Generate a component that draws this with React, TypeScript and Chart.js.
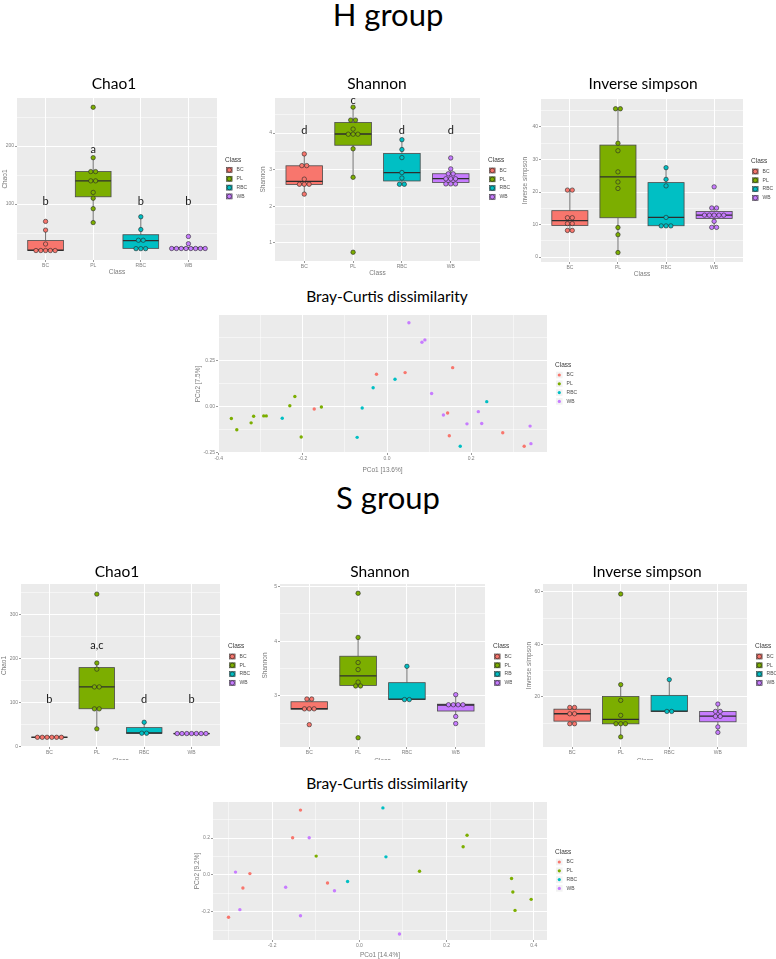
import React, { useEffect, useRef } from 'react';
import { Chart, registerables } from 'chart.js';

Chart.register(...registerables);

// ---------------- categories & colours ----------------
const CLASSES = ['BC', 'PL', 'RBC', 'WB'];
const CLASS_COLORS = ['#F8766D', '#7CAE00', '#00BFC4', '#C77CFF'];

// ---------------- H group: alpha diversity (one list per class: BC, PL, RBC, WB) ----------------
const H_CHAO1 = [
  [19, 19.5, 20, 20, 20.5, 31, 55, 70],
  [68, 92, 110, 120, 140, 140, 156, 156, 180, 267],
  [22, 23, 24, 37, 38, 56, 78],
  [22, 22.5, 23, 23, 23.5, 24, 24, 24.5, 31.5, 44],
];
const H_CHAO1_LETTERS = ['b', 'a', 'b', 'b'];
const H_CHAO1_LETTER_Y = [104, 195, 104, 104];
const H_CHAO1_TICKS = [100, 200];
const H_CHAO1_TICK_LABELS = ['100', '200'];

const H_SHANNON = [
  [2.33, 2.58, 2.6, 2.62, 2.74, 3.1, 3.12, 3.43],
  [0.74, 2.79, 3.57, 3.96, 3.97, 3.98, 4.11, 4.35, 4.36, 4.71],
  [2.59, 2.61, 2.77, 2.92, 3.33, 3.55, 3.82],
  [2.6, 2.61, 2.62, 2.74, 2.75, 2.76, 2.88, 2.89, 3.02, 3.32],
];
const H_SHANNON_LETTERS = ['d', 'c', 'd', 'd'];
const H_SHANNON_LETTER_Y = [4.07, 4.9, 4.07, 4.07];
const H_SHANNON_TICKS = [1, 2, 3, 4];
const H_SHANNON_TICK_LABELS = ['1', '2', '3', '4'];

const H_INVSIMPSON = [
  [8.1, 8.3, 10.2, 10.4, 12.0, 12.2, 20.5, 20.7],
  [1.4, 6.9, 9.1, 21.1, 23.1, 26.2, 32.7, 35, 45.5, 45.7],
  [9.5, 9.6, 9.7, 12.2, 21.9, 23.9, 27.5],
  [9.1, 9.2, 11.0, 12.7, 12.8, 12.9, 13.0, 13.1, 15.0, 15.2, 21.6],
];
const H_INVSIMPSON_TICKS = [0, 10, 20, 30, 40];
const H_INVSIMPSON_TICK_LABELS = ['0', '10', '20', '30', '40'];

// ---------------- S group: alpha diversity ----------------
const S_CHAO1 = [
  [19.5, 20, 20.5, 21, 21.5, 22],
  [40, 85, 86, 135, 136, 176, 190, 347],
  [29.5, 30.5, 55],
  [28, 28.5, 29, 29, 29.5, 30, 30.5],
];
const S_CHAO1_LETTERS = ['b', 'a,c', 'd', 'b'];
const S_CHAO1_LETTER_Y = [108, 229, 108, 108];
const S_CHAO1_TICKS = [0, 100, 200, 300];
const S_CHAO1_TICK_LABELS = ['0', '100', '200', '300'];

const S_SHANNON = [
  [2.47, 2.75, 2.76, 2.77, 2.93, 2.95],
  [2.23, 3.16, 3.2, 3.25, 3.48, 3.61, 4.07, 4.88],
  [2.92, 2.94, 3.54],
  [2.49, 2.62, 2.82, 2.83, 2.84, 2.85, 3.02],
];
const S_SHANNON_TICKS = [3, 4, 5];
const S_SHANNON_TICK_LABELS = ['3', '4', '5'];

const S_INVSIMPSON = [
  [9.7, 9.9, 13.5, 13.7, 15.9, 16.1],
  [4.8, 9.7, 9.8, 9.9, 13, 18.7, 24.7, 59.2],
  [14.4, 14.6, 26.6],
  [6.5, 8.6, 12.5, 12.7, 14.4, 14.6, 17.3],
];
const S_INVSIMPSON_TICKS = [20, 40, 60];
const S_INVSIMPSON_TICK_LABELS = ['20', '40', '60'];

// ---------------- Bray-Curtis PCoA points [PCo1, PCo2] ----------------
const H_PCOA_BC = [[-0.025, 0.175], [0.043, 0.184], [0.156, 0.211], [-0.173, -0.0125], [0.144, -0.034], [0.148, -0.157], [0.275, -0.141], [0.326, -0.214]];
const H_PCOA_PL = [[-0.37, -0.064], [-0.357, -0.125], [-0.323, -0.0875], [-0.317, -0.052], [-0.293, -0.05], [-0.287, -0.05], [-0.231, 0.005], [-0.219, 0.055], [-0.156, -0.002], [-0.204, -0.164]];
const H_PCOA_RBC = [[-0.249, -0.0625], [-0.059, -0.007], [-0.033, 0.102], [0.019, 0.148], [-0.071, -0.166], [0.237, 0.027], [0.174, -0.214]];
const H_PCOA_WB = [[0.052, 0.454], [0.083, 0.348], [0.09, 0.361], [0.106, 0.071], [0.134, -0.045], [0.19, -0.093], [0.217, -0.027], [0.225, -0.091], [0.34, -0.105], [0.342, -0.2]];
const H_PCOA_X_TICKS = [-0.4, -0.2, 0, 0.2];
const H_PCOA_X_LABELS = ['-0.4', '-0.2', '0.0', '0.2'];
const H_PCOA_Y_TICKS = [-0.25, 0, 0.25];
const H_PCOA_Y_LABELS = ['-0.25', '0.00', '0.25'];

const S_PCOA_BC = [[-0.135, 0.352], [-0.153, 0.202], [-0.251, 0.007], [-0.267, -0.071], [-0.3, -0.23], [-0.073, -0.044]];
const S_PCOA_PL = [[0.247, 0.215], [0.238, 0.153], [0.138, 0.02], [-0.099, 0.102], [0.349, -0.02], [0.352, -0.093], [0.394, -0.133], [0.357, -0.193]];
const S_PCOA_RBC = [[0.054, 0.364], [0.061, 0.098], [-0.027, -0.036]];
const S_PCOA_WB = [[-0.115, 0.202], [-0.284, 0.015], [-0.169, -0.067], [-0.057, -0.086], [-0.274, -0.189], [-0.135, -0.222], [0.092, -0.321]];
const S_PCOA_X_TICKS = [-0.2, 0, 0.2, 0.4];
const S_PCOA_X_LABELS = ['-0.2', '0.0', '0.2', '0.4'];
const S_PCOA_Y_TICKS = [-0.2, 0, 0.2];
const S_PCOA_Y_LABELS = ['-0.2', '0.0', '0.2'];

// ---------------- styling ----------------
const FAMILY = '"Liberation Sans", Arial, sans-serif';
const TITLE_FAMILY = 'Lato, "Open Sans", sans-serif';
const PANEL_BG = '#EBEBEB';
const TICK_COLOR = '#808080';
const TICK_MARK = '#808080';
const AXIS_TITLE_COLOR = '#7a7a7a';
const BOX_WIDTH = 0.75;

// ---------------- panel specifications (layout) ----------------
const H_CHAO1_PANEL = {
  kind: 'box',
  canvas: { x: 1, y: 88, w: 257, h: 190 },
  pad: { left: 0, top: 10, right: 41, bottom: 2 },
  yAxisW: 16, xAxisH: 16,
  y: { min: 3.4, max: 283, ticks: H_CHAO1_TICKS, labels: H_CHAO1_TICK_LABELS, minor: [50, 150, 250], title: 'Chao1' },
  values: H_CHAO1, letters: H_CHAO1_LETTERS, letterY: H_CHAO1_LETTER_Y,
};
const H_SHANNON_PANEL = {
  kind: 'box',
  canvas: { x: 259, y: 88, w: 253, h: 191 },
  pad: { left: 0, top: 10, right: 32, bottom: 2 },
  yAxisW: 16, xAxisH: 16,
  y: { min: 0.5, max: 4.96, ticks: H_SHANNON_TICKS, labels: H_SHANNON_TICK_LABELS, minor: [1.5, 2.5, 3.5, 4.5], title: 'Shannon' },
  values: H_SHANNON, letters: H_SHANNON_LETTERS, letterY: H_SHANNON_LETTER_Y,
};
const H_INVSIMPSON_PANEL = {
  kind: 'box',
  canvas: { x: 521, y: 88, w: 255, h: 192 },
  pad: { left: 0, top: 11, right: 33, bottom: 2 },
  yAxisW: 20, xAxisH: 16,
  y: { min: -1.5, max: 48.6, ticks: H_INVSIMPSON_TICKS, labels: H_INVSIMPSON_TICK_LABELS, minor: [5, 15, 25, 35, 45], title: 'Inverse simpson' },
  values: H_INVSIMPSON,
};
const S_CHAO1_PANEL = {
  kind: 'box',
  canvas: { x: 0, y: 574, w: 258, h: 191 },
  pad: { left: 0, top: 10, right: 38, bottom: 0 },
  yAxisW: 21, xAxisH: 18,
  y: { min: -1.4, max: 370, ticks: S_CHAO1_TICKS, labels: S_CHAO1_TICK_LABELS, minor: [50, 150, 250, 350], title: 'Chao1' },
  values: S_CHAO1, letters: S_CHAO1_LETTERS, letterY: S_CHAO1_LETTER_Y,
};
const S_SHANNON_PANEL = {
  kind: 'box',
  canvas: { x: 261, y: 574, w: 251, h: 191 },
  pad: { left: 0, top: 10, right: 27, bottom: 0 },
  yAxisW: 19, xAxisH: 18,
  y: { min: 2.06, max: 5.05, ticks: S_SHANNON_TICKS, labels: S_SHANNON_TICK_LABELS, minor: [2.5, 3.5, 4.5], title: 'Shannon' },
  values: S_SHANNON,
};
const S_INVSIMPSON_PANEL = {
  kind: 'box',
  canvas: { x: 512, y: 574, w: 264, h: 191 },
  pad: { left: 13, top: 10, right: 29, bottom: 0 },
  yAxisW: 18, xAxisH: 18, bg: '#FFFFFF',
  y: { min: 0.95, max: 63, ticks: S_INVSIMPSON_TICKS, labels: S_INVSIMPSON_TICK_LABELS, minor: [10, 30, 50], title: 'Inverse simpson' },
  values: S_INVSIMPSON,
};
const H_PCOA_PANEL = {
  kind: 'pcoa',
  canvas: { x: 194, y: 305, w: 406, h: 171 },
  pad: { left: 0, top: 10, right: 53, bottom: 2 },
  yAxisW: 24, xAxisH: 21,
  x: { min: -0.4017, max: 0.3802, ticks: H_PCOA_X_TICKS, labels: H_PCOA_X_LABELS, minor: [-0.3, -0.1, 0.1, 0.3], title: 'PCo1 [13.6%]' },
  y: { min: -0.2505, max: 0.4955, ticks: H_PCOA_Y_TICKS, labels: H_PCOA_Y_LABELS, minor: [-0.125, 0.125, 0.375], title: 'PCo2 [7.5%]' },
  points: [H_PCOA_BC, H_PCOA_PL, H_PCOA_RBC, H_PCOA_WB],
};
const S_PCOA_PANEL = {
  kind: 'pcoa',
  canvas: { x: 193, y: 792, w: 407, h: 167 },
  pad: { left: 0, top: 10, right: 53, bottom: 0 },
  yAxisW: 20, xAxisH: 19,
  x: { min: -0.3356, max: 0.4303, ticks: S_PCOA_X_TICKS, labels: S_PCOA_X_LABELS, minor: [-0.3, -0.1, 0.1, 0.3], title: 'PCo1 [14.4%]' },
  y: { min: -0.354, max: 0.396, ticks: S_PCOA_Y_TICKS, labels: S_PCOA_Y_LABELS, minor: [-0.3, -0.1, 0.1, 0.3], title: 'PCo2 [9.2%]' },
  points: [S_PCOA_BC, S_PCOA_PL, S_PCOA_RBC, S_PCOA_WB],
};

// ---------------- statistics helpers ----------------
function boxStats(vals: number[]) {
  const s = [...vals].sort((a, b) => a - b);
  const q = (p: number) => {
    const pos = (s.length - 1) * p;
    const lo = Math.floor(pos);
    const hi = Math.min(lo + 1, s.length - 1);
    return s[lo] + (s[hi] - s[lo]) * (pos - lo);
  };
  const q1 = q(0.25), med = q(0.5), q3 = q(0.75), iqr = q3 - q1;
  const lo = s.filter((v) => v >= q1 - 1.5 * iqr)[0];
  const inside = s.filter((v) => v <= q3 + 1.5 * iqr);
  const hi = inside[inside.length - 1];
  return { q1, med, q3, lo, hi };
}

function binWidth(groups: number[][]) {
  const all = groups.flat();
  return (Math.max(...all) - Math.min(...all)) / 30;
}

// ggplot2 "dotdensity" binning
function dotBins(vals: number[], bw: number) {
  const s = [...vals].sort((a, b) => a - b);
  const bins: number[][] = [];
  let end = -Infinity;
  for (const v of s) {
    if (v >= end) {
      bins.push([v]);
      end = v + bw;
    } else bins[bins.length - 1].push(v);
  }
  return bins.map((b) => ({ center: (b[0] + b[b.length - 1]) / 2, n: b.length }));
}

function dotPoints(vals: number[], bw: number, cx: number, step: number) {
  const pts: { x: number; y: number }[] = [];
  dotBins(vals, bw).forEach((b) => {
    for (let k = 0; k < b.n; k++) pts.push({ x: cx + (k - (b.n - 1) / 2) * step, y: b.center });
  });
  return pts;
}

// ---------------- scale builders ----------------
function near(list: number[], v: number) {
  return list.findIndex((m) => Math.abs(m - v) < 1e-7);
}

function valueScale(ax: any, size: number, horizontal: boolean) {
  const all = [...ax.ticks, ...ax.minor]
    .filter((v: number) => v >= ax.min - 1e-9 && v <= ax.max + 1e-9)
    .sort((a: number, b: number) => a - b);
  return {
    type: 'linear',
    position: horizontal ? 'bottom' : 'left',
    min: ax.min,
    max: ax.max,
    afterBuildTicks: (s: any) => {
      s.ticks = all.map((v: number) => ({ value: v }));
    },
    afterFit: (s: any) => {
      if (horizontal) s.height = size;
      else s.width = size;
    },
    ticks: {
      autoSkip: false, maxRotation: 0, minRotation: 0, padding: 1,
      color: TICK_COLOR, font: { family: FAMILY, size: 5 },
      callback: (v: number) => {
        const i = near(ax.ticks, v);
        return i >= 0 ? ax.labels[i] : '';
      },
    },
    grid: {
      color: '#FFFFFF',
      lineWidth: (c: any) => (c.tick && near(ax.ticks, c.tick.value) >= 0 ? 1 : 0.5),
      drawTicks: true, tickLength: 2, tickWidth: 0.8,
      tickColor: (c: any) => (c.tick && near(ax.ticks, c.tick.value) >= 0 ? TICK_MARK : 'rgba(0,0,0,0)'),
    },
    border: { display: false },
    title: { display: true, text: ax.title, color: AXIS_TITLE_COLOR, font: { family: FAMILY, size: 6.5 }, padding: 0 },
  };
}

function classScale(size: number) {
  return {
    type: 'linear',
    position: 'bottom',
    min: 0.4,
    max: 4.6,
    afterBuildTicks: (s: any) => {
      s.ticks = CLASSES.map((_, i) => ({ value: i + 1 }));
    },
    afterFit: (s: any) => {
      s.height = size;
    },
    ticks: {
      autoSkip: false, maxRotation: 0, minRotation: 0, padding: 1,
      color: TICK_COLOR, font: { family: FAMILY, size: 5 },
      callback: (v: number) => CLASSES[Math.round(v) - 1] ?? '',
    },
    grid: { color: '#FFFFFF', lineWidth: 1, drawTicks: true, tickLength: 2, tickWidth: 0.8, tickColor: TICK_MARK },
    border: { display: false },
    title: { display: true, text: 'Class', color: AXIS_TITLE_COLOR, font: { family: FAMILY, size: 6.5 }, padding: 0 },
  };
}

// ---------------- plugins ----------------
function backgroundPlugin(pageBg?: string) {
  return {
    id: 'panelBg',
    beforeDraw(chart: any) {
      const { ctx, chartArea: a, width, height } = chart;
      ctx.save();
      if (pageBg) {
        ctx.fillStyle = pageBg;
        ctx.fillRect(0, 0, width, height);
      }
      ctx.fillStyle = PANEL_BG;
      ctx.fillRect(a.left, a.top, a.right - a.left, a.bottom - a.top);
      ctx.restore();
    },
  };
}

function boxPlugin(p: any) {
  return {
    id: 'ggBoxes',
    beforeDatasetsDraw(chart: any) {
      const { ctx, scales } = chart;
      const x = scales.x, y = scales.y;
      const unit = x.getPixelForValue(2) - x.getPixelForValue(1);
      ctx.save();
      p.values.forEach((vals: number[], i: number) => {
        const st = boxStats(vals);
        const cx = x.getPixelForValue(i + 1);
        const hw = (BOX_WIDTH * unit) / 2;
        const top = y.getPixelForValue(st.q3);
        const bot = y.getPixelForValue(st.q1);
        ctx.strokeStyle = '#707070';
        ctx.lineWidth = 1;
        ctx.beginPath();
        ctx.moveTo(cx, top);
        ctx.lineTo(cx, y.getPixelForValue(st.hi));
        ctx.moveTo(cx, bot);
        ctx.lineTo(cx, y.getPixelForValue(st.lo));
        ctx.stroke();
        ctx.fillStyle = CLASS_COLORS[i];
        ctx.fillRect(cx - hw, top, 2 * hw, bot - top);
        ctx.strokeStyle = '#4a4a4a';
        ctx.lineWidth = 0.8;
        ctx.strokeRect(cx - hw, top, 2 * hw, bot - top);
        const ym = y.getPixelForValue(st.med);
        ctx.strokeStyle = '#2e2e2e';
        ctx.lineWidth = 1.3;
        ctx.beginPath();
        ctx.moveTo(cx - hw, ym);
        ctx.lineTo(cx + hw, ym);
        ctx.stroke();
      });
      ctx.restore();
    },
    afterDatasetsDraw(chart: any) {
      if (!p.letters) return;
      const { ctx, scales } = chart;
      ctx.save();
      ctx.font = `11px ${TITLE_FAMILY}`;
      ctx.fillStyle = '#1a1a1a';
      ctx.textAlign = 'center';
      ctx.textBaseline = 'middle';
      p.letters.forEach((t: string, i: number) => {
        ctx.fillText(t, scales.x.getPixelForValue(i + 1), scales.y.getPixelForValue(p.letterY[i]));
      });
      ctx.restore();
    },
  };
}

function legendPlugin(kind: string) {
  return {
    id: 'ggLegend',
    afterDraw(chart: any) {
      const { ctx, chartArea: a } = chart;
      const cy = (a.top + a.bottom) / 2;
      const x0 = a.right + 8;
      ctx.save();
      ctx.textBaseline = 'middle';
      ctx.textAlign = 'left';
      ctx.fillStyle = '#3a3a3a';
      ctx.font = `6.5px ${FAMILY}`;
      ctx.fillText('Class', x0, cy - 19);
      CLASSES.forEach((c, i) => {
        const yy = cy - 9 + i * 8.8;
        const ks = 6.6;
        const kx = x0 + 1;
        const ky = yy - ks / 2;
        ctx.fillStyle = '#F2F2F2';
        ctx.fillRect(kx, ky, ks, ks);
        if (kind === 'box') {
          ctx.fillStyle = CLASS_COLORS[i];
          ctx.fillRect(kx + 0.5, ky + 0.8, ks - 1, ks - 1.6);
          ctx.strokeStyle = '#444';
          ctx.lineWidth = 0.6;
          ctx.strokeRect(kx + 0.5, ky + 0.8, ks - 1, ks - 1.6);
          ctx.beginPath();
          ctx.arc(kx + ks / 2, yy, 2.2, 0, Math.PI * 2);
          ctx.fillStyle = CLASS_COLORS[i];
          ctx.fill();
          ctx.strokeStyle = '#222';
          ctx.stroke();
        } else {
          ctx.beginPath();
          ctx.arc(kx + ks / 2, yy, 1.6, 0, Math.PI * 2);
          ctx.fillStyle = CLASS_COLORS[i];
          ctx.fill();
        }
        ctx.fillStyle = '#4d4d4d';
        ctx.font = `5px ${FAMILY}`;
        ctx.fillText(c, kx + ks + 4, yy);
      });
      ctx.restore();
    },
  };
}

function baseOptions(p: any) {
  return {
    responsive: false,
    animation: false,
    devicePixelRatio: 1,
    events: [],
    layout: { padding: p.pad },
    plugins: { legend: { display: false }, tooltip: { enabled: false }, title: { display: false } },
  };
}

function buildBoxChart(canvas: HTMLCanvasElement, p: any) {
  const bw = binWidth(p.values);
  const datasets = p.values.map((vals: number[], i: number) => ({
    label: CLASSES[i],
    data: dotPoints(vals, bw, i + 1, 0),
    pointBackgroundColor: CLASS_COLORS[i],
    pointBorderColor: '#262626',
    pointBorderWidth: 0.6,
    pointRadius: 2.3,
    pointHoverRadius: 2.3,
    showLine: false,
  }));
  const chart = new Chart(canvas, {
    type: 'scatter',
    data: { datasets },
    options: { ...baseOptions(p), scales: { x: classScale(p.xAxisH), y: valueScale(p.y, p.yAxisW, false) } } as any,
    plugins: [backgroundPlugin(p.bg), boxPlugin(p), legendPlugin('box')],
  } as any);
  // second pass: dot diameter = bin width on the y scale, stacked sideways (geom_dotplot style)
  const xs: any = chart.scales.x;
  const ys: any = chart.scales.y;
  const unitX = xs.getPixelForValue(2) - xs.getPixelForValue(1);
  const pxPerY = ys.getPixelForValue(p.y.min) - ys.getPixelForValue(p.y.min + 1);
  const diam = bw * pxPerY;
  chart.data.datasets.forEach((ds: any, i: number) => {
    ds.data = dotPoints(p.values[i], bw, i + 1, diam / unitX);
    ds.pointRadius = Math.max(diam / 2 - 0.2, 1);
    ds.pointHoverRadius = ds.pointRadius;
  });
  chart.update('none');
  return chart;
}

function buildPcoaChart(canvas: HTMLCanvasElement, p: any) {
  const datasets = p.points.map((pts: number[][], i: number) => ({
    label: CLASSES[i],
    data: pts.map(([a, b]) => ({ x: a, y: b })),
    pointBackgroundColor: CLASS_COLORS[i],
    pointBorderWidth: 0,
    pointRadius: 1.7,
    pointHoverRadius: 1.7,
    showLine: false,
  }));
  return new Chart(canvas, {
    type: 'scatter',
    data: { datasets },
    options: { ...baseOptions(p), scales: { x: valueScale(p.x, p.xAxisH, true), y: valueScale(p.y, p.yAxisW, false) } } as any,
    plugins: [backgroundPlugin(p.bg), legendPlugin('point')],
  } as any);
}

function ChartPanel({ panel }: { panel: any }) {
  const ref = useRef<HTMLCanvasElement>(null);
  useEffect(() => {
    if (!ref.current) return;
    const chart = panel.kind === 'box' ? buildBoxChart(ref.current, panel) : buildPcoaChart(ref.current, panel);
    return () => chart.destroy();
  }, [panel]);
  const c = panel.canvas;
  return (
    <canvas
      ref={ref}
      width={c.w}
      height={c.h}
      style={{ position: 'absolute', left: c.x, top: c.y, width: c.w, height: c.h }}
    />
  );
}

function Title({ text, cx, cy, size }: { text: string; cx: number; cy: number; size: number }) {
  return (
    <div
      style={{
        position: 'absolute',
        left: cx - 200,
        top: cy - size * 0.63,
        width: 400,
        textAlign: 'center',
        fontFamily: TITLE_FAMILY,
        fontSize: size,
        lineHeight: `${size * 1.2}px`,
        color: '#000',
        whiteSpace: 'nowrap',
      }}
    >
      {text}
    </div>
  );
}

export default function App() {
  return (
    <div style={{ position: 'absolute', left: 0, top: 0, width: 776, height: 959, background: '#fff', overflow: 'hidden' }}>
      <Title text="H group" cx={388} cy={16} size={31} />
      <ChartPanel panel={H_CHAO1_PANEL} />
      <ChartPanel panel={H_SHANNON_PANEL} />
      <ChartPanel panel={H_INVSIMPSON_PANEL} />
      <Title text="Chao1" cx={114} cy={84} size={15.5} />
      <Title text="Shannon" cx={377} cy={84} size={15.5} />
      <Title text="Inverse simpson" cx={643} cy={84} size={15.5} />
      <Title text="Bray-Curtis dissimilarity" cx={387} cy={297} size={15.5} />
      <ChartPanel panel={H_PCOA_PANEL} />

      <Title text="S group" cx={388} cy={499} size={31} />
      <ChartPanel panel={S_CHAO1_PANEL} />
      <ChartPanel panel={S_SHANNON_PANEL} />
      <ChartPanel panel={S_INVSIMPSON_PANEL} />
      <Title text="Chao1" cx={117} cy={572} size={15.5} />
      <Title text="Shannon" cx={380} cy={572} size={15.5} />
      <Title text="Inverse simpson" cx={647} cy={572} size={15.5} />
      <div style={{ position: 'absolute', left: 0, top: 760, width: 776, height: 199, background: '#fff' }} />
      <Title text="Bray-Curtis dissimilarity" cx={387} cy={784} size={15.5} />
      <ChartPanel panel={S_PCOA_PANEL} />
    </div>
  );
}
